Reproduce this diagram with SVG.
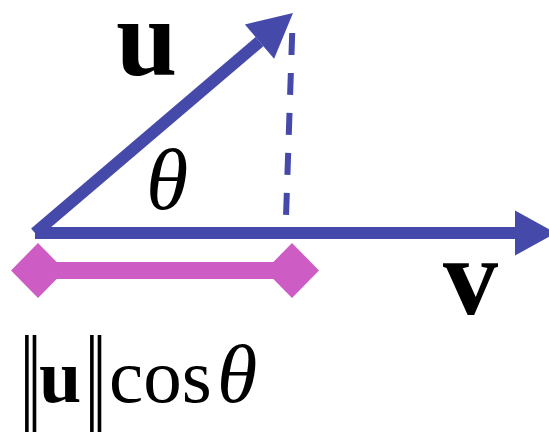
<svg xmlns="http://www.w3.org/2000/svg" width="549" height="435" viewBox="0 0 549 435">
<style>
.vec{stroke:#4449AA;stroke-width:12;fill:none}
.head{fill:#4449AA}
.dash{stroke:#4449AA;stroke-width:6;stroke-dasharray:22 18;fill:none}
.proj{stroke:#CD5CC5;stroke-width:17;fill:none}
.dia{fill:#CD5CC5}
.t{font-family:"Liberation Serif","Times New Roman",serif;fill:#000}
.b{font-weight:bold}
.i{font-style:italic}
</style>
<rect width="549" height="435" fill="#fff"/>
<g id="connectors">
  <line class="dash" x1="292.2" y1="33" x2="286" y2="217"/>
  <line class="vec" x1="35" y1="233" x2="259.5" y2="41.6"/>
  <polygon class="head" points="293,13 244.9,24.5 274.1,58.7"/>
  <line class="vec" x1="35" y1="233" x2="516" y2="233"/>
  <polygon class="head" points="556,233 515,210.5 515,255.5"/>
</g>
<g id="projection">
  <line class="proj" x1="38" y1="270.5" x2="292" y2="270.5"/>
  <polygon class="dia" points="11,270.5 38,243 65,270.5 38,298"/>
  <polygon class="dia" points="265,270.5 292,243 319,270.5 292,298"/>
</g>
<g id="label-u"><text class="t b" x="116" y="75" font-size="110">u</text></g>
<g id="label-theta"><text class="t i" x="146" y="209" font-size="86">θ</text></g>
<g id="label-v"><text class="t b" x="443" y="314" font-size="110">v</text></g>
<g id="label-proj">
  <text class="t" transform="translate(20,432) scale(1,1.84)" font-size="76">‖</text>
  <text class="t b" x="39" y="402" font-size="76">u</text>
  <text class="t" transform="translate(85,432) scale(1,1.84)" font-size="76">‖</text>
  <text class="t" x="109" y="402" font-size="77">cos</text>
  <text class="t i" x="217" y="402" font-size="82">θ</text>
</g>
</svg>
